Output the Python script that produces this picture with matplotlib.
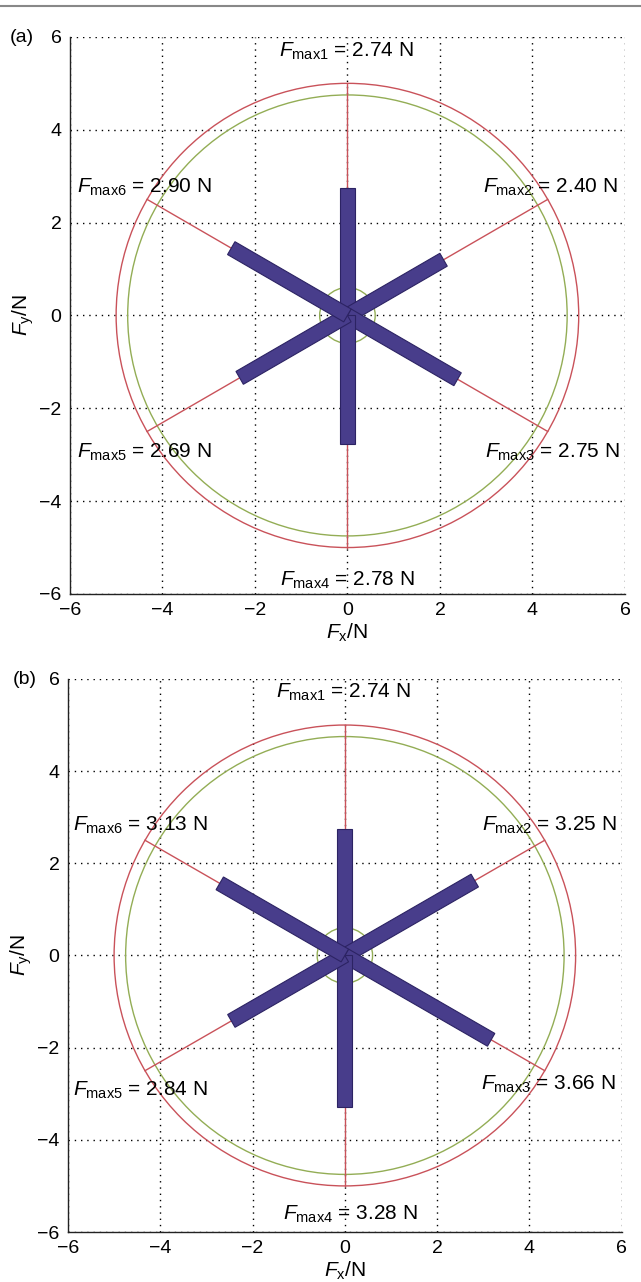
import numpy as np
from matplotlib import pyplot as plt
from matplotlib.patches import Circle, Polygon
from matplotlib.lines import Line2D

plt.rcParams['font.family'] = ['Liberation Sans', 'DejaVu Sans']
plt.rcParams['mathtext.fontset'] = 'custom'
plt.rcParams['mathtext.rm'] = 'Liberation Sans'
plt.rcParams['mathtext.it'] = 'Liberation Sans:italic'

# force directions (deg) and max forces per panel
ANGLES = [90, 30, -30, -90, -150, 150]
FMAX_A = [2.74, 2.40, 2.75, 2.78, 2.69, 2.90]
FMAX_B = [2.74, 3.25, 3.66, 3.28, 2.84, 3.13]
PANELS = ['(a)', '(b)']
TICKS = [-6, -4, -2, 0, 2, 4, 6]

R_RED = 5.0
R_GREEN = 4.75
R_INNER = 0.6
BAR_W = 0.32

# label anchors (left x, center y) in data units
LABEL_POS_A = [(-1.48, 5.68), (2.93, 2.75), (2.97, -2.96), (-1.46, -5.70), (-5.85, -2.94), (-5.85, 2.75)]
LABEL_POS_B = [(-1.49, 5.72), (2.97, 2.83), (2.95, -2.79), (-1.35, -5.62), (-5.88, -2.93), (-5.89, 2.83)]

RED = '#c9525a'
GREEN = '#93ad55'
BAR = '#483d8b'
BAR_EDGE = '#2c2363'


def draw_panel(ax, fmax, label_pos):
    ax.set_xlim(-6, 6)
    ax.set_ylim(-6, 6)
    ax.set_xticks(TICKS)
    ax.set_yticks(TICKS)
    ax.grid(True, color='k', linestyle=(0, (1, 3.5)), linewidth=1.0)
    ax.set_axisbelow(True)
    for s in ['top', 'right']:
        ax.spines[s].set_visible(False)
    for s in ['left', 'bottom']:
        ax.spines[s].set_color('#222222')
        ax.spines[s].set_linewidth(1.0)
    ax.tick_params(direction='in', length=0, labelsize=14, pad=6)
    ax.set_xticklabels([str(t).replace('-', '\u2212') for t in TICKS])
    ax.set_yticklabels([str(t).replace('-', '\u2212') for t in TICKS])

    ax.add_patch(Circle((0, 0), R_RED, fill=False, ec=RED, lw=1.0, zorder=2))
    ax.add_patch(Circle((0, 0), R_GREEN, fill=False, ec=GREEN, lw=1.0, zorder=2))
    ax.add_patch(Circle((0, 0), R_INNER, fill=False, ec=GREEN, lw=1.0, zorder=2))

    for ang, f in zip(ANGLES, fmax):
        a = np.deg2rad(ang)
        d = np.array([np.cos(a), np.sin(a)])
        n = np.array([-d[1], d[0]]) * BAR_W / 2
        ax.plot([0, R_RED * d[0]], [0, R_RED * d[1]], color=RED, lw=1.0, zorder=3)
        pts = [n, f * d + n, f * d - n, -n]
        ax.add_patch(Polygon(pts, closed=True, fc=BAR, ec=BAR_EDGE, lw=0.8, zorder=4))

    for i, (f, (x, y)) in enumerate(zip(fmax, label_pos)):
        ax.text(x, y, r'$F_{\rm max%d}$ = %.2f N' % (i + 1, f), fontsize=15,
                ha='left', va='center', zorder=6)

    ax.set_xlabel(r'$F_{\rm x}$/N', fontsize=15, labelpad=2)
    ax.set_ylabel(r'$F_{\rm y}$/N', fontsize=15, labelpad=2)


fig = plt.figure(figsize=(6.41, 12.82), dpi=100)
ax1 = fig.add_axes([0.109, 0.5367, 0.866, 0.4345])
ax2 = fig.add_axes([0.106, 0.039, 0.864, 0.4314])

draw_panel(ax1, FMAX_A, LABEL_POS_A)
draw_panel(ax2, FMAX_B, LABEL_POS_B)

fig.text(10 / 641, 1 - 37 / 1282, PANELS[0], fontsize=14, ha='left', va='center')
fig.text(13 / 641, 1 - 679 / 1282, PANELS[1], fontsize=14, ha='left', va='center')

# page rule at the top
fig.add_artist(Line2D([0, 1], [0.9955, 0.9955], color='#888888', lw=1.5))

fig.savefig('out.png', dpi=100)
